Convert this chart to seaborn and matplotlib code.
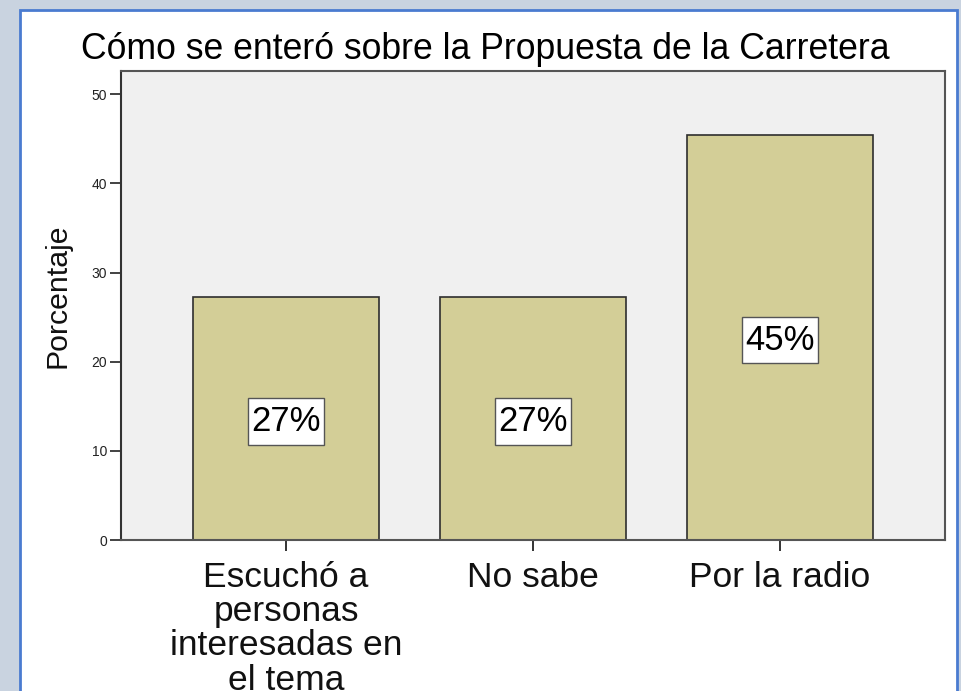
import matplotlib
matplotlib.use("Agg")
import matplotlib.pyplot as plt
import seaborn as sns
import pandas as pd
from matplotlib.patches import Rectangle
from matplotlib.path import Path

# Data
categories = ["Escuchó a\npersonas\ninteresadas en\nel tema", "No sabe", "Por la radio"]
percent = [27.27, 27.27, 45.45]
y_ticks = [0, 10, 20, 30, 40, 50]

df = pd.DataFrame({"Categoria": categories, "Porcentaje": percent})

sns.set_style("white")
plt.rcParams["font.family"] = ["Liberation Sans", "DejaVu Sans"]


class LabelBox:
    # square box with separate horizontal / vertical padding
    def __init__(self, padx=0.1, pady=0.2):
        self.padx = padx
        self.pady = pady

    def __call__(self, x0, y0, width, height, mutation_size):
        px = self.padx * mutation_size
        py = self.pady * mutation_size
        x0, y0 = x0 - px, y0 - py
        x1, y1 = x0 + width + 2 * px, y0 + height + 2 * py
        return Path([(x0, y0), (x1, y0), (x1, y1), (x0, y1), (x0, y0)],
                    closed=True)


fig = plt.figure(figsize=(9.61, 6.91), dpi=100, facecolor="#c9d3e0")

# white slide panel with blue border
panel = Rectangle((20 / 961, -0.05), (957 - 20) / 961, 1.05 - 10 / 691,
                  transform=fig.transFigure, facecolor="white",
                  edgecolor="#4a7bd0", linewidth=2, zorder=-1)
fig.patches.append(panel)

ax = fig.add_axes([121 / 961, 1 - 540 / 691, (945 - 121) / 961, (540 - 71) / 691])
ax.set_facecolor("#f0f0f0")

sns.barplot(data=df, x="Categoria", y="Porcentaje", ax=ax, color="#d3ce97",
            saturation=1, width=0.753, edgecolor="#2e2e2e", linewidth=1.2)

for i, v in enumerate(percent):
    t = ax.text(i, v / 2 - 0.3, f"{v:.0f}%", ha="center", va="center", fontsize=25,
                color="black",
                bbox=dict(facecolor="white", edgecolor="#555555", linewidth=1))
    t.get_bbox_patch().set_boxstyle(LabelBox(0.1, 0.2))

ax.set_xlim(-0.668, 2.668)
ax.set_ylim(0, 52.6)
ax.set_yticks(y_ticks)
ax.set_yticklabels([str(t) for t in y_ticks], fontsize=10, color="#222222")
ax.tick_params(axis="y", direction="out", length=8, width=1.2, pad=2, left=True, colors="#222222")
ax.tick_params(axis="x", direction="out", length=8, width=1.2, pad=7, bottom=True,
               labelsize=25.5, colors="#111111")
for lab in ax.get_xticklabels():
    lab.set_linespacing(1.05)
ax.set_xlabel("")
ax.set_ylabel("Porcentaje", fontsize=21.8, color="#111111")
ax.yaxis.set_label_coords(-0.0595, 0.52)

for side in ["top", "right", "bottom", "left"]:
    ax.spines[side].set_visible(True)
    ax.spines[side].set_color("#555555")
    ax.spines[side].set_linewidth(1.5)
ax.spines["left"].set_color("#333333")

fig.text(485 / 961, 1 - 59 / 691, "Cómo se enteró sobre la Propuesta de la Carretera",
         ha="center", va="baseline", fontsize=25.7, color="black")

fig.savefig("out.png", dpi=100, facecolor=fig.get_facecolor())
